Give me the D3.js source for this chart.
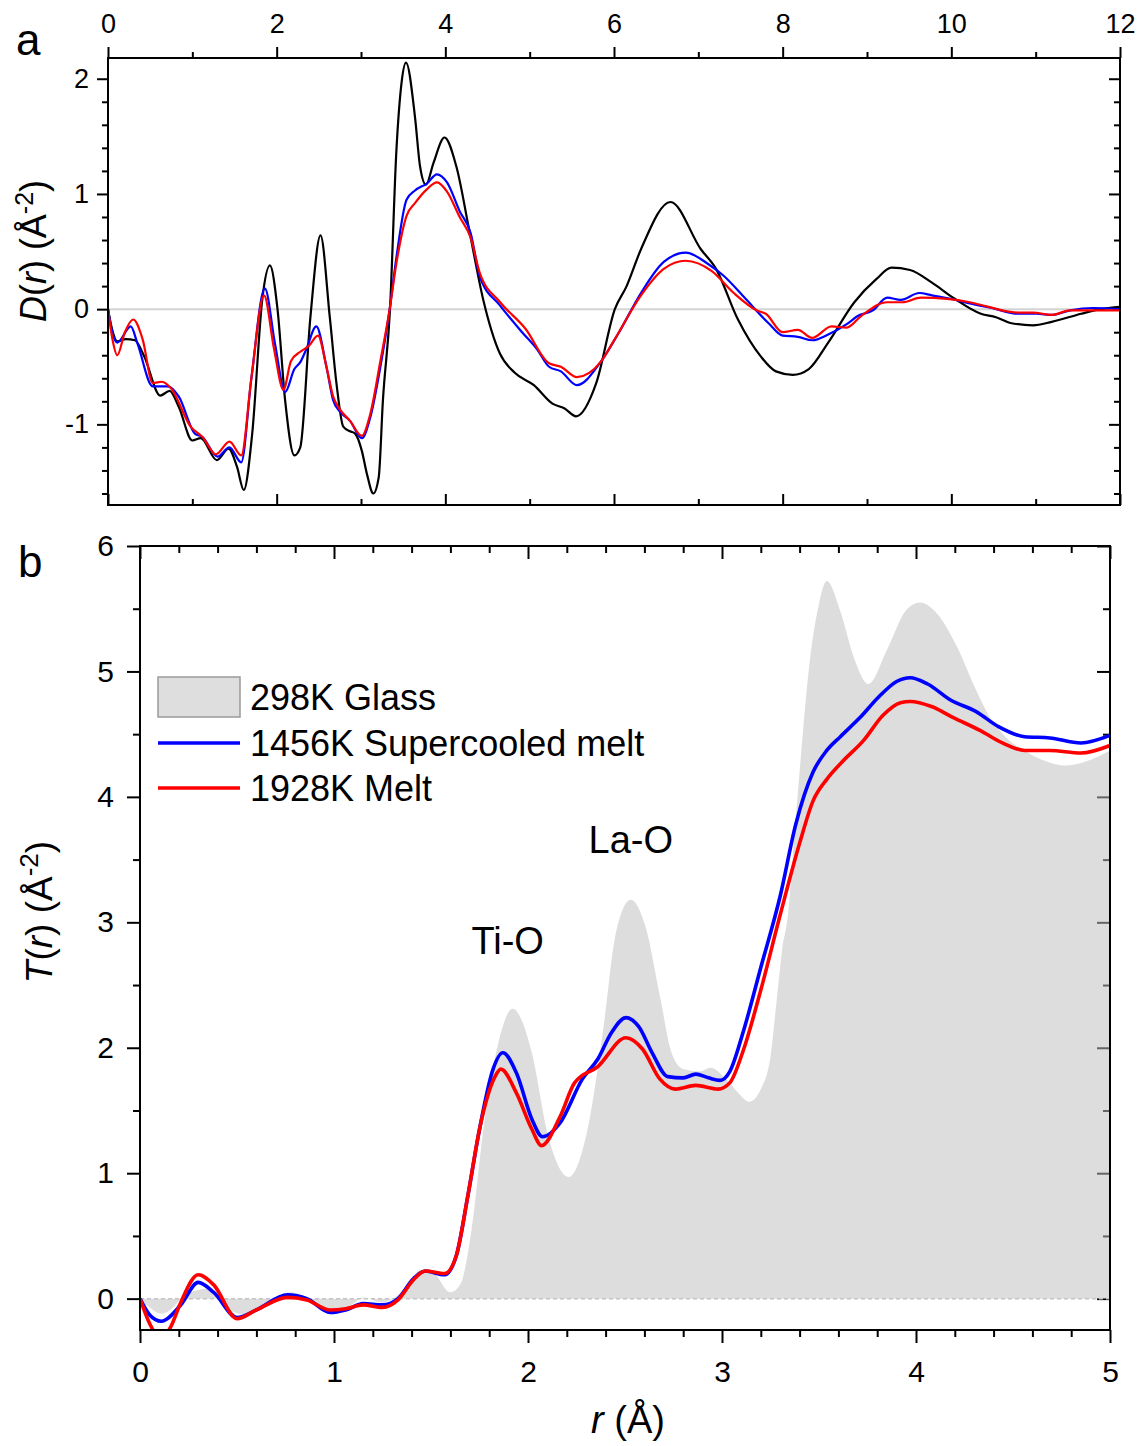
<!DOCTYPE html>
<html>
<head>
<meta charset="utf-8">
<script src="https://cdn.jsdelivr.net/npm/d3@7"></script>
<style>
  body { margin: 0; background: #fff; }
  svg { display: block; font-family: "Liberation Sans", Arial, sans-serif; }
</style>
</head>
<body>
<svg id="chart" width="1142" height="1446"></svg>
<script>
// ---- panel a : D(r), r from 0 to 12 ----
var glassD = [[0,0],[0.05,-0.18],[0.11,-0.28],[0.21,-0.26],[0.32,-0.27],[0.43,-0.41],[0.62,-0.75],[0.73,-0.71],[0.84,-0.85],[1.0,-1.14],[1.10,-1.12],[1.29,-1.31],[1.43,-1.21],[1.53,-1.37],[1.61,-1.57],[1.71,-1.08],[1.83,0.09],[1.92,0.38],[2.01,0.0],[2.10,-0.79],[2.21,-1.27],[2.28,-1.20],[2.40,-0.07],[2.52,0.64],[2.63,-0.07],[2.71,-0.65],[2.79,-1.02],[2.87,-1.06],[2.93,-1.08],[3.01,-1.23],[3.07,-1.43],[3.146,-1.60],[3.21,-1.46],[3.26,-0.79],[3.344,0],[3.42,1.38],[3.48,1.96],[3.534,2.14],[3.64,1.67],[3.70,1.24],[3.77,1.08],[3.86,1.27],[3.99,1.49],[4.13,1.24],[4.29,0.66],[4.45,0.08],[4.65,-0.39],[4.82,-0.55],[5.05,-0.66],[5.27,-0.82],[5.41,-0.86],[5.55,-0.93],[5.79,-0.64],[6.01,0],[6.15,0.2],[6.32,0.52],[6.67,0.93],[7.03,0.52],[7.21,0.35],[7.47,-0.09],[7.74,-0.41],[7.92,-0.54],[8.12,-0.57],[8.31,-0.52],[8.54,-0.29],[8.85,0.06],[9.11,0.26],[9.29,0.36],[9.51,0.34],[9.77,0.23],[10.04,0.09],[10.35,-0.04],[10.53,-0.07],[10.70,-0.12],[10.97,-0.14],[11.19,-0.11],[11.54,-0.04],[11.77,0],[12,0.02]]
var superD = [[0,0],[0.05,-0.2],[0.11,-0.29],[0.27,-0.15],[0.35,-0.3],[0.53,-0.67],[0.71,-0.67],[0.84,-0.76],[1.03,-1.08],[1.12,-1.11],[1.30,-1.28],[1.44,-1.20],[1.58,-1.33],[1.70,-0.6],[1.86,0.18],[1.98,-0.3],[2.10,-0.72],[2.21,-0.52],[2.28,-0.46],[2.35,-0.35],[2.47,-0.15],[2.59,-0.50],[2.67,-0.79],[2.75,-0.89],[2.87,-0.97],[3.01,-1.12],[3.11,-0.94],[3.23,-0.50],[3.34,0],[3.42,0.45],[3.54,0.95],[3.64,1.03],[3.78,1.09],[3.90,1.17],[4.02,1.10],[4.17,0.85],[4.30,0.66],[4.41,0.28],[4.65,0.03],[4.91,-0.20],[5.09,-0.35],[5.23,-0.50],[5.37,-0.54],[5.56,-0.66],[5.84,-0.46],[6.06,-0.20],[6.32,0.14],[6.59,0.41],[6.85,0.49],[7.12,0.39],[7.30,0.29],[7.56,0.09],[7.83,-0.12],[8.00,-0.23],[8.18,-0.24],[8.35,-0.27],[8.54,-0.22],[8.76,-0.13],[8.89,-0.06],[9.07,-0.01],[9.24,0.10],[9.40,0.08],[9.62,0.14],[9.77,0.12],[9.99,0.09],[10.22,0.05],[10.48,0.01],[10.79,-0.04],[11.01,-0.04],[11.19,-0.05],[11.41,-0.01],[11.68,0.01],[12,0]]
var meltD = [[0,0],[0.05,-0.25],[0.11,-0.40],[0.20,-0.2],[0.30,-0.09],[0.41,-0.26],[0.53,-0.64],[0.64,-0.63],[0.75,-0.69],[0.98,-1.02],[1.12,-1.11],[1.28,-1.26],[1.44,-1.15],[1.58,-1.27],[1.70,-0.6],[1.85,0.12],[1.97,-0.35],[2.08,-0.70],[2.17,-0.45],[2.28,-0.37],[2.38,-0.32],[2.49,-0.23],[2.59,-0.50],[2.67,-0.76],[2.75,-0.87],[2.87,-0.97],[3.01,-1.10],[3.11,-0.91],[3.23,-0.45],[3.34,0],[3.42,0.40],[3.54,0.81],[3.64,0.92],[3.78,1.04],[3.90,1.10],[4.02,1.02],[4.17,0.80],[4.30,0.62],[4.41,0.31],[4.65,0.06],[4.95,-0.17],[5.23,-0.47],[5.37,-0.50],[5.56,-0.59],[5.84,-0.46],[6.01,-0.26],[6.32,0.12],[6.59,0.35],[6.85,0.42],[7.16,0.33],[7.42,0.14],[7.69,-0.01],[7.80,-0.04],[8.00,-0.20],[8.18,-0.18],[8.35,-0.25],[8.58,-0.15],[8.76,-0.16],[8.93,-0.06],[9.24,0.06],[9.42,0.06],[9.64,0.10],[9.95,0.09],[10.22,0.06],[10.44,0.02],[10.79,-0.03],[10.97,-0.03],[11.19,-0.05],[11.41,-0.01],[11.72,-0.01],[12,-0.01]]

// ---- panel b : T(r), r from 0 to 5 ----
var glassT = [[0,0],[0.05,-0.07],[0.11,-0.12],[0.17,-0.07],[0.21,0],[0.28,0.06],[0.35,0.08],[0.40,0.03],[0.46,-0.09],[0.56,-0.13],[0.66,-0.03],[0.78,0.05],[0.88,-0.01],[0.98,-0.12],[1.09,-0.05],[1.15,0.01],[1.25,-0.03],[1.35,0.05],[1.45,0.23],[1.51,0.21],[1.60,0.05],[1.65,0.11],[1.71,0.56],[1.77,1.35],[1.84,1.99],[1.92,2.31],[2.02,1.96],[2.10,1.32],[2.21,0.97],[2.30,1.30],[2.395,2.23],[2.45,2.89],[2.53,3.18],[2.61,2.94],[2.68,2.41],[2.74,1.96],[2.80,1.83],[2.887,1.81],[2.94,1.84],[3.02,1.75],[3.09,1.63],[3.14,1.57],[3.20,1.67],[3.25,1.93],[3.28,2.35],[3.31,2.78],[3.34,3.06],[3.37,3.63],[3.40,4.20],[3.45,5.05],[3.50,5.54],[3.54,5.72],[3.61,5.48],[3.68,5.11],[3.755,4.90],[3.85,5.17],[3.95,5.49],[4.02,5.55],[4.12,5.44],[4.21,5.20],[4.31,4.85],[4.39,4.61],[4.46,4.48],[4.58,4.35],[4.66,4.29],[4.77,4.25],[4.89,4.29],[5,4.37]]
var superT = [[0,0],[0.05,-0.13],[0.11,-0.18],[0.21,-0.05],[0.30,0.13],[0.38,0.05],[0.50,-0.15],[0.60,-0.09],[0.76,0.03],[0.86,0],[0.98,-0.11],[1.06,-0.09],[1.15,-0.04],[1.25,-0.05],[1.33,0],[1.41,0.16],[1.47,0.22],[1.57,0.19],[1.63,0.34],[1.69,0.82],[1.75,1.35],[1.82,1.83],[1.87,1.96],[1.94,1.80],[2.02,1.43],[2.075,1.29],[2.165,1.40],[2.28,1.75],[2.36,1.91],[2.43,2.12],[2.505,2.24],[2.57,2.17],[2.64,1.96],[2.72,1.77],[2.80,1.76],[2.865,1.79],[2.93,1.76],[2.99,1.74],[3.04,1.81],[3.11,2.13],[3.20,2.64],[3.30,3.21],[3.38,3.78],[3.47,4.20],[3.54,4.37],[3.61,4.48],[3.71,4.63],[3.81,4.80],[3.90,4.92],[3.97,4.95],[4.06,4.90],[4.18,4.77],[4.31,4.68],[4.425,4.56],[4.56,4.48],[4.69,4.47],[4.85,4.43],[5,4.49]]
var meltT = [[0,0],[0.05,-0.2],[0.11,-0.32],[0.16,-0.22],[0.21,-0.03],[0.30,0.19],[0.38,0.11],[0.50,-0.16],[0.60,-0.09],[0.76,0.01],[0.86,-0.01],[0.98,-0.09],[1.06,-0.08],[1.15,-0.05],[1.25,-0.07],[1.33,-0.01],[1.41,0.15],[1.47,0.22],[1.57,0.20],[1.63,0.34],[1.69,0.82],[1.75,1.35],[1.83,1.77],[1.86,1.83],[1.94,1.64],[2.02,1.35],[2.07,1.22],[2.165,1.45],[2.24,1.72],[2.36,1.85],[2.505,2.08],[2.59,1.99],[2.68,1.75],[2.76,1.67],[2.865,1.70],[2.98,1.67],[3.04,1.72],[3.11,1.98],[3.20,2.46],[3.30,3.06],[3.40,3.63],[3.47,3.97],[3.54,4.14],[3.62,4.28],[3.73,4.45],[3.83,4.65],[3.92,4.75],[3.97,4.76],[4.08,4.72],[4.195,4.63],[4.33,4.53],[4.445,4.43],[4.56,4.37],[4.69,4.37],[4.85,4.35],[5,4.41]]

var legendNames = ["298K Glass", "1456K Supercooled melt", "1928K Melt"]
var peakLabels = [{text: "Ti-O", r: 1.895, t: 2.75}, {text: "La-O", r: 2.53, t: 3.55}]

var aMajorX = d3.range(0, 13, 2), aMinorX = d3.range(1, 12, 2)
var aMajorY = [-1, 0, 1, 2]
var aMinorY = d3.range(-16, 21, 2).map(v => v / 10).filter(v => !Number.isInteger(v))
var bMajorX = [0, 1, 2, 3, 4, 5]
var bMinorX = d3.range(1, 25).map(v => v / 5).filter(v => !Number.isInteger(v))
var bMajorY = [0, 1, 2, 3, 4, 5, 6]
var bMinorY = [0.5, 1.5, 2.5, 3.5, 4.5, 5.5]

var svg = d3.select("#chart")

// scales
var xA = d3.scaleLinear().domain([0, 12]).range([108, 1120])
var yA = d3.scaleLinear().domain([-1.7, 2.18]).range([505, 58])
var xB = d3.scaleLinear().domain([0, 5]).range([140, 1110])
var yB = d3.scaleLinear().domain([-0.25, 6]).range([1330, 546])

// draws one set of ticks; labels only when fontSize given
function ticks(axisGen, tx, ty, vals, size, pad, fontSize) {
	var g = svg.append("g").attr("transform", "translate(" + tx + "," + ty + ")")
	g.call(axisGen.tickValues(vals).tickSize(size).tickSizeOuter(0).tickPadding(pad)
		.tickFormat(fontSize ? (d => String(d)) : ""))
	g.select(".domain").remove()
	g.selectAll("line").attr("stroke", "#000").attr("stroke-width", 2)
	g.selectAll("text").attr("fill", "#000")
	g.attr("font-family", "'Liberation Sans', Arial, sans-serif").attr("font-size", fontSize || 10)
	return g
}

// ---------- panel a ----------
ticks(d3.axisTop(xA), 0, 58, aMajorX, 11, 14, 27)
ticks(d3.axisTop(xA), 0, 58, aMinorX, 6, 3)
ticks(d3.axisTop(xA), 0, 505, aMajorX, 11, 3)
ticks(d3.axisTop(xA), 0, 505, aMinorX, 6, 3)
ticks(d3.axisLeft(yA), 108, 0, aMajorY, 11, 8, 27)
ticks(d3.axisLeft(yA), 108, 0, aMinorY, 6, 3)
ticks(d3.axisLeft(yA), 1120, 0, aMajorY, 11, 3)
ticks(d3.axisLeft(yA), 1120, 0, aMinorY, 6, 3)

svg.append("line")
	.attr("x1", xA(0)).attr("x2", xA(12)).attr("y1", yA(0)).attr("y2", yA(0))
	.attr("stroke", "#d4d4d4").attr("stroke-width", 2)

var lineA = d3.line().x(d => xA(d[0])).y(d => yA(d[1])).curve(d3.curveMonotoneX)
var seriesA = [[glassD, "#000000"], [superD, "#0000ff"], [meltD, "#ff0000"]]
seriesA.forEach(s => {
	svg.append("path").datum(s[0]).attr("d", lineA)
		.attr("fill", "none").attr("stroke", s[1]).attr("stroke-width", 2.2)
})
svg.append("rect").attr("x", 108).attr("y", 58).attr("width", 1012).attr("height", 447)
	.attr("fill", "none").attr("stroke", "#000").attr("stroke-width", 2)

// ---------- panel b ----------
ticks(d3.axisBottom(xB), 0, 546, bMajorX, 13, 3)
ticks(d3.axisBottom(xB), 0, 546, bMinorX, 7, 3)
ticks(d3.axisBottom(xB), 0, 1330, bMajorX, 13, 18, 30)
ticks(d3.axisBottom(xB), 0, 1330, bMinorX, 7, 3)
ticks(d3.axisLeft(yB), 140, 0, bMajorY, 13, 13, 30)
ticks(d3.axisLeft(yB), 140, 0, bMinorY, 7, 3)
ticks(d3.axisLeft(yB), 1110, 0, bMajorY, 13, 3)
ticks(d3.axisLeft(yB), 1110, 0, bMinorY, 7, 3)

svg.append("clipPath").attr("id", "clipB").append("rect")
	.attr("x", 140).attr("y", 546).attr("width", 970).attr("height", 784)

var areaB = d3.area().x(d => xB(d[0])).y0(yB(0)).y1(d => yB(d[1])).curve(d3.curveMonotoneX)
svg.append("path").datum(glassT).attr("d", areaB)
	.attr("fill", "#bebebe").attr("fill-opacity", 0.53).attr("clip-path", "url(#clipB)")

svg.append("line")
	.attr("x1", xB(0)).attr("x2", xB(5)).attr("y1", yB(0)).attr("y2", yB(0))
	.attr("stroke", "#c4c4c4").attr("stroke-width", 1.5).attr("stroke-dasharray", "4,3")

var lineB = d3.line().x(d => xB(d[0])).y(d => yB(d[1])).curve(d3.curveMonotoneX)
var seriesB = [[superT, "#0000ff"], [meltT, "#ff0000"]]
seriesB.forEach(s => {
	svg.append("path").datum(s[0]).attr("d", lineB).attr("clip-path", "url(#clipB)")
		.attr("fill", "none").attr("stroke", s[1]).attr("stroke-width", 3.6)
})
svg.append("rect").attr("x", 140).attr("y", 546).attr("width", 970).attr("height", 784)
	.attr("fill", "none").attr("stroke", "#000").attr("stroke-width", 2)

// peak labels
svg.selectAll(".peak").data(peakLabels).enter().append("text")
	.attr("class", "peak")
	.attr("x", d => xB(d.r)).attr("y", d => yB(d.t))
	.attr("text-anchor", "middle").attr("font-size", 38)
	.text(d => d.text)

// legend
var lg = svg.append("g").attr("font-size", 36)
lg.append("rect").attr("x", 158).attr("y", 677).attr("width", 82).attr("height", 40)
	.attr("fill", "#dedede").attr("stroke", "#9a9a9a").attr("stroke-width", 1.5)
lg.append("line").attr("x1", 158).attr("x2", 240).attr("y1", 743).attr("y2", 743)
	.attr("stroke", "#0000ff").attr("stroke-width", 3.6)
lg.append("line").attr("x1", 158).attr("x2", 240).attr("y1", 788).attr("y2", 788)
	.attr("stroke", "#ff0000").attr("stroke-width", 3.6)
lg.selectAll("text").data(legendNames).enter().append("text")
	.attr("x", 250).attr("y", (d, i) => 710 + i * 45.5)
	.text(d => d)

// panel letters
svg.append("text").attr("x", 16).attr("y", 55).attr("font-size", 44).text("a")
svg.append("text").attr("x", 18).attr("y", 577).attr("font-size", 44).text("b")

// axis titles
var tA = svg.append("text").attr("transform", "translate(46,251) rotate(-90)")
	.attr("text-anchor", "middle").attr("font-size", 36)
tA.append("tspan").attr("font-style", "italic").text("D")
tA.append("tspan").text("(")
tA.append("tspan").attr("font-style", "italic").text("r")
tA.append("tspan").text(") (Å")
tA.append("tspan").attr("font-size", 25).attr("dy", -13).text("-2")
tA.append("tspan").attr("dy", 13).text(")")

var tB = svg.append("text").attr("transform", "translate(52,912) rotate(-90)")
	.attr("text-anchor", "middle").attr("font-size", 37)
tB.append("tspan").attr("font-style", "italic").text("T")
tB.append("tspan").text("(")
tB.append("tspan").attr("font-style", "italic").text("r")
tB.append("tspan").text(") (Å")
tB.append("tspan").attr("font-size", 26).attr("dy", -14).text("-2")
tB.append("tspan").attr("dy", 14).text(")")

var tX = svg.append("text").attr("x", 628).attr("y", 1433)
	.attr("text-anchor", "middle").attr("font-size", 38)
tX.append("tspan").attr("font-style", "italic").text("r")
tX.append("tspan").text(" (Å)")
</script>
</body>
</html>
